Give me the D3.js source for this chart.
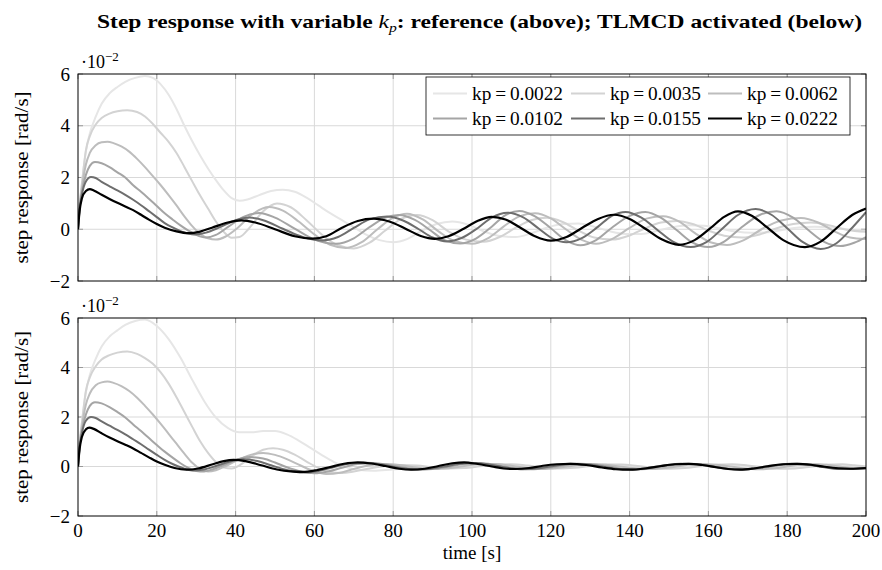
<!DOCTYPE html>
<html>
<head>
<meta charset="utf-8">
<script src="https://cdn.jsdelivr.net/npm/d3@7"></script>
<style>
  body { margin: 0; background: #fff; }
  svg text { font-family: "Liberation Serif", "Times New Roman", serif; }
</style>
</head>
<body>
<div class="chart"></div>
<script>
const WIDTH = 882;
const HEIGHT = 570;
const PLOT = {LEFT: 78, RIGHT: 866};
const PANELS = [{TOP: 74, BOTTOM: 281}, {TOP: 318, BOTTOM: 516}];

// legend / series order: lightest first, black last
const kpLabels = ['0.0022', '0.0035', '0.0062', '0.0102', '0.0155', '0.0222'];
const xTicks = [0, 20, 40, 60, 80, 100, 120, 140, 160, 180, 200];
const yTicks = [-2, 0, 2, 4, 6];

// reference (above), values in 1e-2 rad/s, [time, value]
const ref0022 = [[0,0],[0.4,0.9],[1,1.8],[2,3.0],[3,3.7],[4.5,4.35],[6,4.85],[8,5.25],[10,5.5],[12,5.7],[14.5,5.85],[17,5.92],[19,5.85],[21,5.6],[23,5.2],[25,4.65],[27,4.0],[29,3.4],[31,2.85],[33,2.35],[35,1.9],[37,1.5],[39,1.2],[41,1.1],[43,1.15],[46,1.32],[49,1.48],[52,1.53],[55,1.45],[58,1.22],[61,0.92],[64,0.62],[67,0.35],[70,0.08],[73,-0.2],[76.5,-0.42],[80,-0.5],[83.5,-0.38],[87,-0.08],[91,0.2],[95,0.3],[99,0.18],[103,-0.08],[107,-0.26],[111,-0.3],[115,-0.16],[119,0.06],[123,0.2],[127,0.22],[131,0.1],[135,-0.08],[139,-0.18],[143,-0.18],[147,-0.06],[151,0.08],[155,0.15],[159,0.14],[163,0.03],[167,-0.09],[171,-0.14],[175,-0.12],[179,-0.02],[183,0.07],[187,0.1],[191,0.08],[195,0.0],[200,-0.06]];
const ref0035 = [[0,0],[0.4,0.9],[1,1.75],[2,3.05],[3,3.6],[4.5,4.05],[6,4.3],[8,4.47],[10,4.56],[12.5,4.6],[15,4.53],[17,4.36],[19,4.07],[21,3.72],[23,3.38],[25,2.95],[27,2.41],[29,1.85],[31,1.3],[33,0.8],[35,0.3],[37,-0.1],[39,-0.33],[41,-0.3],[43.5,0.05],[47,0.7],[50.5,1.0],[54,0.85],[58,0.35],[62,-0.22],[66,-0.62],[70,-0.74],[74,-0.52],[78,-0.05],[82,0.4],[86,0.55],[90,0.35],[94,-0.08],[98.5,-0.4],[103,-0.48],[107,-0.3],[111,0.05],[115,0.35],[119,0.44],[123,0.28],[127,-0.05],[131,-0.32],[135.5,-0.4],[140,-0.24],[144,0.04],[148,0.26],[152,0.32],[156,0.2],[160,-0.05],[164,-0.25],[168.5,-0.32],[173,-0.2],[177,0.02],[181.5,0.2],[186,0.26],[190.5,0.16],[195,-0.02],[200,-0.1]];
const ref0062 = [[0,0],[0.4,0.85],[1,1.6],[2,2.5],[3,2.95],[4.5,3.25],[6,3.36],[7.5,3.38],[9,3.33],[11,3.2],[13,3.0],[15,2.72],[17,2.4],[19,2.05],[21,1.7],[23,1.32],[25,0.92],[27,0.5],[29,0.12],[31,-0.18],[33,-0.35],[35,-0.4],[37.5,-0.28],[40.5,0.05],[44,0.55],[48.5,0.86],[52,0.72],[56,0.3],[60,-0.2],[64,-0.6],[68,-0.72],[72,-0.5],[76,0.0],[80,0.45],[83.5,0.6],[87.5,0.38],[91.5,-0.08],[95.5,-0.45],[100,-0.56],[104,-0.35],[108,0.1],[112,0.5],[116,0.62],[120,0.42],[124,-0.02],[128,-0.42],[131.5,-0.56],[135.5,-0.38],[140,0.05],[144.5,0.42],[148.5,0.5],[152.5,0.3],[156.5,-0.14],[160.5,-0.5],[164.7,-0.61],[169,-0.42],[173.5,0.0],[178.5,0.34],[183.5,0.43],[188,0.25],[192,-0.08],[196,-0.32],[200,-0.38]];
const ref0102 = [[0,0],[0.4,0.8],[1,1.45],[2,2.1],[3,2.45],[4.3,2.6],[6,2.55],[8,2.4],[10,2.2],[12,2.0],[14,1.7],[16,1.45],[18,1.18],[20,0.9],[22,0.62],[24,0.38],[26,0.15],[28,-0.05],[30,-0.22],[32.5,-0.32],[35,-0.22],[38,0.08],[42,0.48],[46,0.63],[50,0.45],[55,0.02],[60,-0.4],[65.5,-0.56],[70,-0.35],[74,0.08],[78,0.45],[81.5,0.55],[85.5,0.36],[89.5,-0.05],[93,-0.42],[97,-0.55],[101,-0.36],[105,0.1],[108.5,0.55],[112,0.71],[116,0.5],[120,0.04],[124,-0.44],[127.5,-0.62],[131.5,-0.42],[135.5,0.06],[140,0.52],[144,0.67],[148,0.44],[152,-0.04],[156,-0.52],[160,-0.69],[164,-0.48],[168,0.02],[173,0.55],[177.3,0.7],[181.5,0.45],[185.5,-0.05],[189.5,-0.5],[193.5,-0.65],[197,-0.52],[200,-0.3]];
const ref0155 = [[0,0],[0.4,0.75],[1,1.35],[2,1.85],[3.3,2.02],[4.5,1.98],[6,1.83],[8,1.66],[10,1.5],[12,1.33],[14,1.14],[16,0.93],[18,0.7],[20,0.47],[22,0.24],[24,0.07],[26.5,-0.1],[29.5,-0.2],[32.5,-0.13],[36,0.08],[40,0.35],[43.5,0.45],[47,0.35],[52,0.02],[57,-0.3],[62,-0.43],[66,-0.3],[70,0.05],[74,0.38],[78.5,0.49],[82.5,0.34],[86.5,0.0],[90,-0.32],[93.7,-0.47],[97.5,-0.33],[101.5,0.05],[105,0.45],[109,0.64],[113,0.46],[117,0.02],[120.5,-0.36],[124,-0.5],[128,-0.33],[132,0.1],[135.5,0.52],[139,0.67],[143,0.45],[147,-0.02],[151,-0.48],[155.5,-0.69],[159.5,-0.5],[163.5,0.02],[167.5,0.55],[172,0.78],[176,0.56],[180,0.04],[184,-0.5],[188.5,-0.76],[192.5,-0.54],[196.5,0.06],[200,0.66]];
const ref0222 = [[0,0],[0.4,0.7],[1,1.2],[2,1.48],[3,1.55],[4,1.5],[6,1.33],[8,1.17],[10,1.02],[12,0.88],[14,0.74],[16,0.56],[18,0.37],[20,0.2],[22,0.06],[25,-0.08],[28,-0.15],[31,-0.09],[34,0.06],[38,0.26],[41.5,0.34],[45,0.26],[50,0.0],[55,-0.27],[59.5,-0.36],[63,-0.27],[67,0.06],[71,0.32],[75,0.41],[79,0.3],[83,0.03],[87,-0.26],[90.5,-0.37],[94,-0.27],[98,0.03],[101.5,0.33],[105,0.48],[108.5,0.38],[112.5,0.04],[116,-0.27],[120,-0.44],[124,-0.3],[128,0.06],[132,0.4],[136,0.56],[140,0.4],[144,0.02],[148,-0.38],[152.5,-0.6],[156.5,-0.42],[160.5,0.04],[164,0.48],[167.5,0.69],[171,0.52],[175,0.06],[179,-0.42],[184.5,-0.69],[188.5,-0.48],[192.5,0.04],[196.5,0.55],[200,0.8]];

// TLMCD activated (below)
const tlm0022 = [[0,0],[0.4,0.9],[1,1.8],[2,3.0],[3,3.7],[4.5,4.35],[6,4.85],[8,5.25],[10,5.5],[12,5.72],[14.5,5.88],[17,5.94],[20,5.68],[23,5.15],[26,4.4],[29,3.5],[32,2.65],[35,1.98],[38,1.56],[41,1.38],[44,1.38],[47,1.43],[50,1.43],[53,1.3],[56,1.05],[59,0.75],[62,0.45],[65,0.18],[68,-0.02],[71,-0.13],[75,-0.17],[80,-0.12],[85,-0.08],[90,-0.08],[94,-0.05],[99,0.02],[103,0.06],[107,0.07],[111,0.03],[115,-0.03],[119,-0.07],[123,-0.05],[127,0.01],[131,0.06],[135,0.07],[139,0.03],[143,-0.03],[147,-0.07],[151,-0.06],[155,-0.01],[159,0.05],[163,0.07],[167,0.04],[171,-0.02],[175,-0.07],[179,-0.06],[183,-0.01],[187,0.05],[191,0.07],[195,0.04],[200,-0.02]];
const tlm0035 = [[0,0],[0.4,0.9],[1,1.75],[2,3.05],[3,3.6],[4.5,4.05],[6,4.32],[8,4.5],[10,4.6],[12.5,4.65],[15,4.55],[17,4.38],[19,4.15],[21,3.8],[23,3.35],[25,2.8],[27,2.2],[29,1.6],[31,1.02],[33,0.55],[35,0.18],[37,-0.04],[39,-0.08],[41,0.05],[44,0.4],[47,0.68],[49.5,0.74],[52,0.68],[55,0.48],[58,0.2],[61,-0.06],[64,-0.22],[67,-0.26],[70,-0.2],[74,-0.08],[78,0.02],[82,0.06],[86,0.04],[90,-0.03],[94,-0.08],[98,-0.06],[102,0.01],[106,0.08],[110,0.09],[114,0.04],[118,-0.04],[122,-0.08],[126,-0.05],[130,0.02],[134,0.08],[138,0.08],[142,0.02],[146,-0.05],[150,-0.09],[154,-0.06],[158,0.01],[162,0.07],[166,0.09],[170,0.04],[174,-0.03],[178,-0.09],[182,-0.08],[186,-0.01],[190,0.07],[194,0.09],[197,0.05],[200,0.0]];
const tlm0062 = [[0,0],[0.4,0.85],[1,1.6],[2,2.5],[3,2.95],[4.5,3.28],[6,3.4],[7.5,3.43],[9,3.38],[11,3.25],[13,3.05],[15,2.78],[17,2.45],[19,2.1],[21,1.72],[23,1.32],[25,0.92],[27,0.52],[29,0.15],[31,-0.1],[33,-0.2],[35,-0.15],[37.5,0.02],[41,0.3],[44.5,0.5],[47,0.55],[50,0.47],[53,0.3],[56.5,0.04],[60,-0.2],[63,-0.3],[66.5,-0.25],[70,-0.1],[74,0.05],[78,0.1],[82,0.05],[86,-0.04],[90,-0.1],[94,-0.07],[98,0.02],[102,0.1],[106,0.1],[110,0.03],[114,-0.06],[118,-0.1],[122,-0.05],[126,0.04],[130,0.1],[134,0.07],[138,-0.01],[142,-0.08],[146,-0.1],[150,-0.04],[154,0.05],[158,0.1],[162,0.07],[166,-0.01],[170,-0.09],[174,-0.11],[178,-0.05],[182,0.05],[186,0.1],[190,0.07],[194,-0.02],[200,-0.1]];
const tlm0102 = [[0,0],[0.4,0.8],[1,1.45],[2,2.1],[3,2.45],[4.3,2.6],[6,2.55],[8,2.4],[10,2.2],[12,1.98],[14,1.7],[16,1.43],[18,1.15],[20,0.87],[22,0.6],[24,0.36],[26,0.13],[28,-0.06],[30,-0.18],[32,-0.2],[34,-0.12],[37,0.06],[40,0.26],[43.5,0.38],[47,0.32],[50,0.16],[53,-0.03],[56.5,-0.2],[60,-0.27],[63.5,-0.2],[67,-0.05],[71,0.1],[75,0.13],[79,0.06],[83,-0.05],[87,-0.12],[91,-0.09],[95,0.02],[99,0.12],[103,0.12],[107,0.03],[111,-0.07],[115,-0.11],[119,-0.06],[123,0.04],[127,0.11],[131,0.08],[135,-0.01],[139,-0.1],[143,-0.11],[147,-0.04],[151,0.06],[155,0.11],[159,0.07],[163,-0.03],[167,-0.11],[171,-0.1],[175,-0.02],[179,0.08],[183,0.11],[187,0.05],[191,-0.04],[195,-0.1],[200,-0.08]];
const tlm0155 = [[0,0],[0.4,0.75],[1,1.35],[2,1.85],[3.3,2.0],[4.5,1.96],[6,1.82],[8,1.65],[10,1.48],[12,1.3],[14,1.1],[16,0.9],[18,0.68],[20,0.47],[22,0.27],[24,0.1],[26.5,-0.06],[29,-0.16],[32,-0.12],[35,0.02],[38.5,0.2],[42,0.29],[45.5,0.22],[49,0.05],[53,-0.14],[57,-0.24],[61,-0.18],[65,-0.02],[69,0.12],[73,0.15],[77,0.08],[81,-0.04],[85,-0.12],[89,-0.1],[93,0.0],[97,0.11],[101,0.14],[105,0.06],[109,-0.05],[113,-0.11],[117,-0.07],[121,0.03],[125,0.11],[129,0.09],[133,0.0],[137,-0.1],[141,-0.12],[145,-0.05],[149,0.05],[153,0.11],[157,0.09],[161,0.0],[165,-0.1],[169,-0.12],[173,-0.05],[177,0.05],[181,0.11],[185,0.08],[189,-0.02],[193,-0.1],[197,-0.1],[200,-0.06]];
const tlm0222 = [[0,0],[0.4,0.7],[1,1.2],[2,1.5],[2.9,1.57],[4,1.52],[6,1.34],[8,1.17],[10,1.02],[12,0.88],[14,0.73],[16,0.55],[18,0.37],[20,0.2],[22,0.07],[24.5,-0.06],[27.5,-0.13],[30.5,-0.08],[34,0.08],[37,0.22],[39.5,0.27],[42.5,0.22],[46.5,0.05],[50.5,-0.12],[54,-0.2],[57,-0.22],[60.5,-0.15],[64,-0.02],[67.5,0.11],[71,0.17],[74.5,0.12],[78,0.02],[81.5,-0.09],[84.5,-0.13],[88,-0.09],[91.5,0.02],[95,0.13],[98,0.17],[101.5,0.1],[105,0.0],[108,-0.08],[111,-0.1],[114.5,-0.06],[118,0.03],[121.5,0.09],[125,0.11],[129,0.06],[133,-0.04],[136.5,-0.11],[140,-0.13],[144,-0.08],[148,0.02],[151.5,0.09],[155,0.11],[158.5,0.06],[162,-0.03],[165,-0.1],[168,-0.13],[171.5,-0.08],[175,0.01],[179,0.09],[182.5,0.11],[186,0.07],[189.5,-0.01],[193,-0.07],[196,-0.09],[200,-0.06]];

const refSeries = [ref0022, ref0035, ref0062, ref0102, ref0155, ref0222];
const tlmSeries = [tlm0022, tlm0035, tlm0062, tlm0102, tlm0155, tlm0222];

const lineColors = ['#e6e6e6', '#d3d3d3', '#bdbdbd', '#a5a5a5', '#6e6e6e', '#000000'];
const lineWidths = [2, 2, 2, 2, 2, 2.2];
const FONT = '"Liberation Serif", "Times New Roman", serif';

var svg = d3.select('.chart').append('svg')
    .attr('width', WIDTH)
    .attr('height', HEIGHT)
    .attr('font-family', FONT);

var xScale = d3.scaleLinear().domain([0, 200]).range([PLOT.LEFT, PLOT.RIGHT]);

function drawPanel(series, panel, idx, showXLabels) {
    var yScale = d3.scaleLinear().domain([-2, 6]).range([panel.BOTTOM, panel.TOP]);
    var g = svg.append('g');

    // grid
    g.selectAll('.vgrid').data(xTicks.slice(1, -1)).enter().append('line')
        .attr('x1', d => xScale(d)).attr('x2', d => xScale(d))
        .attr('y1', panel.TOP).attr('y2', panel.BOTTOM)
        .attr('stroke', '#d9d9d9').attr('stroke-width', 1);
    g.selectAll('.hgrid').data(yTicks.slice(1, -1)).enter().append('line')
        .attr('y1', d => yScale(d)).attr('y2', d => yScale(d))
        .attr('x1', PLOT.LEFT).attr('x2', PLOT.RIGHT)
        .attr('stroke', '#d9d9d9').attr('stroke-width', 1);

    // inward ticks on all sides
    var tickLen = 5;
    xTicks.forEach(function (t) {
        g.append('line').attr('x1', xScale(t)).attr('x2', xScale(t))
            .attr('y1', panel.BOTTOM).attr('y2', panel.BOTTOM - tickLen)
            .attr('stroke', '#999').attr('stroke-width', 1);
        g.append('line').attr('x1', xScale(t)).attr('x2', xScale(t))
            .attr('y1', panel.TOP).attr('y2', panel.TOP + tickLen)
            .attr('stroke', '#999').attr('stroke-width', 1);
    });
    yTicks.forEach(function (v) {
        g.append('line').attr('y1', yScale(v)).attr('y2', yScale(v))
            .attr('x1', PLOT.LEFT).attr('x2', PLOT.LEFT + tickLen)
            .attr('stroke', '#999').attr('stroke-width', 1);
        g.append('line').attr('y1', yScale(v)).attr('y2', yScale(v))
            .attr('x1', PLOT.RIGHT).attr('x2', PLOT.RIGHT - tickLen)
            .attr('stroke', '#999').attr('stroke-width', 1);
    });

    // curves
    svg.append('clipPath').attr('id', 'clip' + idx)
        .append('rect')
        .attr('x', PLOT.LEFT).attr('y', panel.TOP)
        .attr('width', PLOT.RIGHT - PLOT.LEFT).attr('height', panel.BOTTOM - panel.TOP);

    var line = d3.line()
        .x(d => xScale(d[0]))
        .y(d => yScale(d[1]))
        .curve(d3.curveMonotoneX);

    g.append('g').attr('clip-path', 'url(#clip' + idx + ')')
        .selectAll('path').data(series).enter().append('path')
        .attr('d', line)
        .attr('fill', 'none')
        .attr('stroke', (d, i) => lineColors[i])
        .attr('stroke-width', (d, i) => lineWidths[i])
        .attr('stroke-linejoin', 'round');

    // frame
    g.append('rect')
        .attr('x', PLOT.LEFT).attr('y', panel.TOP)
        .attr('width', PLOT.RIGHT - PLOT.LEFT).attr('height', panel.BOTTOM - panel.TOP)
        .attr('fill', 'none').attr('stroke', '#000').attr('stroke-width', 1);

    // y tick labels
    g.selectAll('.ylab').data(yTicks).enter().append('text')
        .attr('x', PLOT.LEFT - 8)
        .attr('y', d => yScale(d) + 6.5)
        .attr('text-anchor', 'end')
        .attr('font-size', 19)
        .text(d => d < 0 ? '\u2212' + Math.abs(d) : d);

    // exponent marker
    var ex = g.append('text')
        .attr('x', PLOT.LEFT + 3)
        .attr('y', panel.TOP - 6)
        .attr('font-size', 18);
    ex.append('tspan').text('\u00b710');
    ex.append('tspan').attr('dy', -7).attr('font-size', 13).text('\u22122');

    // y axis label
    g.append('text')
        .attr('transform', 'translate(28,' + ((panel.TOP + panel.BOTTOM) / 2) + ') rotate(-90)')
        .attr('text-anchor', 'middle')
        .attr('font-size', 19)
        .attr('textLength', 172)
        .attr('lengthAdjust', 'spacingAndGlyphs')
        .text('step response [rad/s]');

    if (showXLabels) {
        g.selectAll('.xlab').data(xTicks).enter().append('text')
            .attr('x', d => xScale(d))
            .attr('y', panel.BOTTOM + 21)
            .attr('text-anchor', 'middle')
            .attr('font-size', 19)
            .text(d => d);
    }
}

drawPanel(refSeries, PANELS[0], 0, false);
drawPanel(tlmSeries, PANELS[1], 1, true);

// x axis label
svg.append('text')
    .attr('x', (PLOT.LEFT + PLOT.RIGHT) / 2)
    .attr('y', 559)
    .attr('text-anchor', 'middle')
    .attr('font-size', 19)
    .text('time [s]');

// title
var title = svg.append('text')
    .attr('x', 97)
    .attr('y', 28)
    .attr('font-size', 19.5)
    .attr('font-weight', 'bold')
    .attr('textLength', 765)
    .attr('lengthAdjust', 'spacingAndGlyphs');
title.append('tspan').text('Step response with variable ');
title.append('tspan').attr('font-style', 'italic').attr('font-weight', 'normal').text('k');
title.append('tspan').attr('font-style', 'italic').attr('font-weight', 'normal')
    .attr('font-size', 13).attr('dy', 4).text('p');
title.append('tspan').attr('dy', -4).text(': reference (above); TLMCD activated (below)');

// legend
var legend = svg.append('g');
legend.append('rect')
    .attr('x', 426).attr('y', 77)
    .attr('width', 424).attr('height', 58)
    .attr('fill', '#fff').attr('stroke', '#000').attr('stroke-width', 0.8);

var colX = [433, 571, 708];
var rowY = [93.5, 118.5];
kpLabels.forEach(function (label, i) {
    var cx = colX[i % 3];
    var cy = rowY[Math.floor(i / 3)];
    legend.append('line')
        .attr('x1', cx).attr('x2', cx + 34)
        .attr('y1', cy).attr('y2', cy)
        .attr('stroke', lineColors[i]).attr('stroke-width', lineWidths[i]);
    legend.append('text')
        .attr('x', cx + 39)
        .attr('y', cy + 6)
        .attr('font-size', 18)
        .attr('textLength', 91)
        .attr('lengthAdjust', 'spacingAndGlyphs')
        .text('kp\u2009=\u20090.' + label.slice(2));
});
</script>
</body>
</html>
